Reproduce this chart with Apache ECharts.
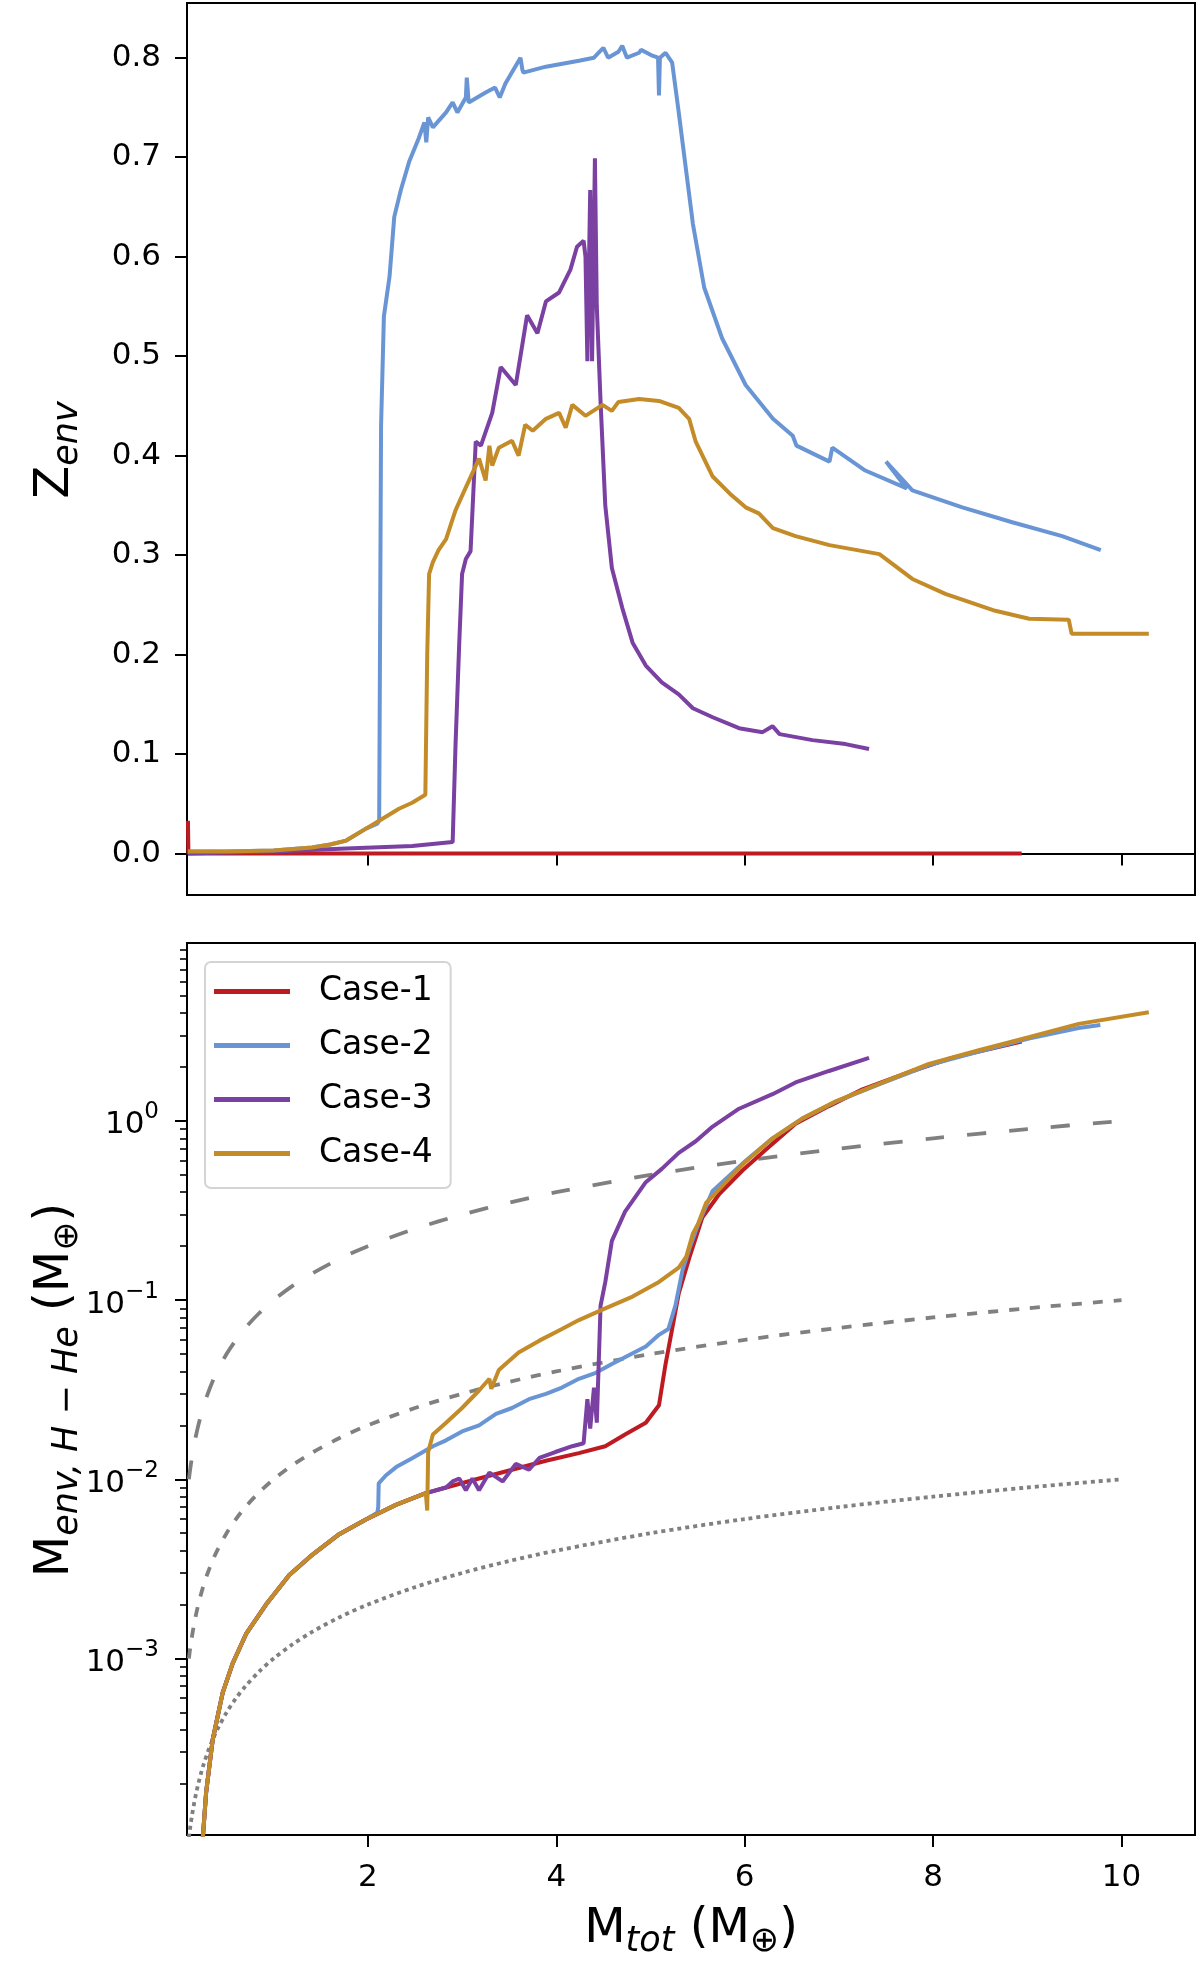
<!DOCTYPE html>
<html><head><meta charset="utf-8">
<script src="https://cdn.jsdelivr.net/npm/echarts@6/dist/echarts.min.js"></script>
<style>html,body{margin:0;padding:0;background:#fff}#c{width:1200px;height:1962px}</style>
</head><body><div id="c"></div>
<script>
// ---------- tick values ----------
const xTicks = [2, 4, 6, 8, 10];
const zTicks = [0, 0.1, 0.2, 0.3, 0.4, 0.5, 0.6, 0.7, 0.8];
const logMajorTicks = [0.001, 0.01, 0.1, 1];
const logMinorTicks = [2e-4,3e-4,4e-4,5e-4,6e-4,7e-4,8e-4,9e-4,
  2e-3,3e-3,4e-3,5e-3,6e-3,7e-3,8e-3,9e-3,
  0.02,0.03,0.04,0.05,0.06,0.07,0.08,0.09,
  0.2,0.3,0.4,0.5,0.6,0.7,0.8,0.9,
  2,3,4,5,6,7,8,9];
const caseNames = ['Case-1', 'Case-2', 'Case-3', 'Case-4'];

// ---------- top panel: Z_env ----------
const case1ZX = [0.09, 0.095, 0.10, 8.94];
const case1ZY = [0.033, 0.0, 0.0, 0.0];

const case2ZX = [0.09,0.5,1.0,1.41,1.6,1.77,1.98,2.10,2.12,2.14,2.17,2.23,2.28,2.35,2.44,2.54,
  2.60,2.62,2.64,2.69,2.83,2.90,2.95,3.04,3.05,3.07,3.25,3.35,3.40,3.46,3.62,3.64,3.65,3.89,4.24,4.40,4.45,4.50,4.55,4.66,4.70,4.75,4.88,4.90,
  5.02,5.08,5.09,5.10,5.16,5.23,5.30,5.38,5.45,5.57,
  5.76,6.01,6.30,6.51,6.55,6.90,6.93,7.28,7.72,7.50,7.78,8.31,8.84,9.37,9.78];
const case2ZY = [0.002,0.002,0.003,0.006,0.009,0.013,0.025,0.030,0.033,0.43,0.54,0.58,0.64,0.667,0.696,0.719,
  0.735,0.715,0.74,0.73,0.745,0.755,0.745,0.76,0.78,0.755,0.765,0.77,0.76,0.774,0.80,0.788,0.785,0.791,0.797,0.80,0.805,0.81,0.80,0.806,0.812,0.80,0.805,0.808,
  0.802,0.80,0.762,0.80,0.805,0.795,0.745,0.685,0.633,0.569,
  0.518,0.471,0.437,0.42,0.41,0.394,0.408,0.385,0.367,0.394,0.365,0.348,0.333,0.319,0.305];

const case3ZX = [0.09,0.5,1.0,1.77,2.47,2.90,2.93,2.97,3.0,3.04,3.09,3.145,3.2,3.32,3.41,3.57,3.69,3.8,3.89,4.03,
  4.15,4.22,4.29,4.31,4.33,4.36,4.38,4.41,4.43,4.47,4.52,4.59,4.7,4.81,4.95,5.12,5.3,5.45,5.66,5.94,
  6.19,6.295,6.37,6.72,7.07,7.32];
const case3ZY = [0.0,0.001,0.002,0.005,0.0075,0.0115,0.108,0.212,0.281,0.296,0.304,0.414,0.41,0.443,0.489,0.471,0.541,0.523,0.555,0.564,
  0.587,0.61,0.616,0.60,0.495,0.667,0.495,0.699,0.55,0.454,0.35,0.287,0.247,0.212,0.189,0.172,0.160,0.146,0.137,0.126,
  0.122,0.128,0.12,0.114,0.11,0.105];

const case4ZX = [0.09,0.5,1.0,1.41,1.6,1.77,1.98,2.12,2.33,2.47,2.61,2.63,2.65,2.69,2.75,2.83,2.93,3.04,3.18,3.25,
  3.29,3.32,3.39,3.53,3.6,3.67,3.75,3.89,4.03,4.1,4.17,4.31,4.49,4.59,4.66,4.88,5.09,5.3,5.41,5.48,
  5.66,5.84,6.01,6.15,6.3,6.54,6.9,7.43,7.78,8.13,8.66,9.02,9.44,9.47,10.29];
const case4ZY = [0.002,0.002,0.003,0.006,0.009,0.013,0.025,0.033,0.045,0.051,0.059,0.20,0.281,0.293,0.305,0.316,0.345,0.368,0.397,0.375,
  0.41,0.39,0.408,0.415,0.40,0.431,0.425,0.437,0.443,0.428,0.451,0.44,0.451,0.445,0.454,0.457,0.455,0.448,0.437,0.414,
  0.379,0.362,0.348,0.342,0.327,0.319,0.310,0.301,0.276,0.261,0.244,0.236,0.235,0.221,0.221];

// ---------- bottom panel: M_env,H-He ----------
const case1MX = [0.245,0.283,0.353,0.459,0.565,0.707,0.919,1.166,1.413,1.696,1.979,2.297,2.615,
  2.83,3.18,3.53,3.89,4.24,4.52,4.73,4.95,5.09,5.16,5.23,5.3,5.41,5.55,5.73,5.976,6.22,6.54,6.895,7.25,7.78,8.2,8.94];
const case1MY = [9.5e-5,1.79e-4,3.53e-4,6.45e-4,9.4e-4,1.37e-3,2.0e-3,2.92e-3,3.8e-3,4.94e-3,5.97e-3,7.2e-3,8.38e-3,
  9.0e-3,0.0101,0.0113,0.0127,0.014,0.0153,0.0178,0.0207,0.0259,0.044,0.069,0.109,0.171,0.289,0.391,0.529,0.688,0.966,1.21,1.50,1.90,2.25,2.77];

const case2MX = [0.245,0.283,0.353,0.459,0.565,0.707,0.919,1.166,1.413,1.696,1.979,
  2.10,2.11,2.115,2.19,2.30,2.47,2.69,2.83,3.0,3.18,3.36,3.53,3.71,3.89,4.06,4.24,4.42,4.59,4.77,4.95,
  5.09,5.19,5.265,5.34,5.42,5.51,5.66,6.01,6.295,6.61,6.966,7.425,7.955,8.485,9.016,9.545,9.775];
const case2MY = [9.5e-5,1.79e-4,3.53e-4,6.45e-4,9.4e-4,1.37e-3,2.0e-3,2.92e-3,3.8e-3,4.94e-3,5.97e-3,
  6.5e-3,7.0e-3,0.0095,0.0105,0.0117,0.0131,0.0153,0.0165,0.0185,0.020,0.0232,0.025,0.028,0.030,0.0325,0.0364,0.0393,0.044,0.0492,0.0551,
  0.064,0.069,0.0934,0.147,0.1986,0.268,0.407,0.60,0.80,1.03,1.28,1.60,2.05,2.44,2.88,3.30,3.43];

const case3MX = [0.245,0.283,0.353,0.459,0.565,0.707,0.919,1.166,1.413,1.696,1.979,2.297,2.615,
  2.83,2.9,2.97,3.04,3.11,3.18,3.29,3.43,3.57,3.71,3.82,3.99,4.17,4.29,4.33,4.36,4.40,4.43,4.47,4.52,
  4.59,4.73,4.95,5.12,5.3,5.48,5.66,5.94,6.295,6.54,6.895,7.32];
const case3MY = [9.5e-5,1.79e-4,3.53e-4,6.45e-4,9.4e-4,1.37e-3,2.0e-3,2.92e-3,3.8e-3,4.94e-3,5.97e-3,7.2e-3,8.38e-3,
  9.0e-3,9.73e-3,0.0101,8.69e-3,0.0101,8.69e-3,0.0109,9.73e-3,0.0122,0.0113,0.01315,0.0142,0.0153,0.0159,0.028,0.0192,0.0325,0.0207,0.093,0.126,
  0.214,0.312,0.455,0.54,0.663,0.77,0.93,1.17,1.41,1.64,1.90,2.25];

const case4MX = [0.245,0.283,0.353,0.459,0.565,0.707,0.919,1.166,1.413,1.696,1.979,2.297,2.615,
  2.63,2.64,2.69,2.83,3.0,3.18,3.29,3.31,3.39,3.6,3.82,4.06,4.24,4.52,4.81,5.09,5.3,5.38,5.45,5.51,
  5.59,5.8,6.01,6.295,6.61,6.966,7.425,7.955,8.485,9.016,9.545,10.29];
const case4MY = [9.5e-5,1.79e-4,3.53e-4,6.45e-4,9.4e-4,1.37e-3,2.0e-3,2.92e-3,3.8e-3,4.94e-3,5.97e-3,7.2e-3,8.38e-3,
  6.7e-3,0.0142,0.0178,0.0207,0.025,0.0313,0.0364,0.032,0.0407,0.051,0.0594,0.069,0.0774,0.0899,0.1047,0.1264,0.152,0.175,0.235,0.27,
  0.349,0.455,0.592,0.80,1.03,1.286,1.61,2.08,2.48,2.93,3.48,4.04];

// ---------- grey reference lines (10%, 1%, 0.1% of M_tot) ----------
const refX = [0.1,0.11,0.12,0.135,0.15,0.175,0.2,0.23,0.26,0.3,0.35,0.4,0.5,0.6,0.7,0.85,1.0,1.2,1.4,1.7,2.0,2.5,3.0,3.5,4.0,5.0,6.0,7.0,8.0,9.0,10.0];
const ref10pct = [0.01,0.011,0.012,0.0135,0.015,0.0175,0.02,0.023,0.026,0.03,0.035,0.04,0.05,0.06,0.07,0.085,0.1,0.12,0.14,0.17,0.2,0.25,0.3,0.35,0.4,0.5,0.6,0.7,0.8,0.9,1.0];
const ref1pct = [0.001,0.0011,0.0012,0.00135,0.0015,0.00175,0.002,0.0023,0.0026,0.003,0.0035,0.004,0.005,0.006,0.007,0.0085,0.01,0.012,0.014,0.017,0.02,0.025,0.03,0.035,0.04,0.05,0.06,0.07,0.08,0.09,0.1];
const ref01pct = [0.0001,0.00011,0.00012,0.000135,0.00015,0.000175,0.0002,0.00023,0.00026,0.0003,0.00035,0.0004,0.0005,0.0006,0.0007,0.00085,0.001,0.0012,0.0014,0.0017,0.002,0.0025,0.003,0.0035,0.004,0.005,0.006,0.007,0.008,0.009,0.01];

// ---------- styling ----------
const FONT = 'DejaVu Sans';
const colors = ['#bd1a22', '#6a95d5', '#7a40a2', '#c38c29'];
const GREY = '#808080';
const pair = (xs, ys) => xs.map((x, i) => [x, ys[i]]);

const chart = echarts.init(document.getElementById('c'), null, {renderer: 'canvas'});

const axisLineStyle = {show: true, lineStyle: {color: '#000', width: 2}};
const tickStyle = {lineStyle: {color: '#000', width: 2}, length: 12, inside: false};

function curve(name, xs, ys, color, xi, yi) {
  return {name, type: 'line', xAxisIndex: xi, yAxisIndex: yi, data: pair(xs, ys),
    symbol: 'none', showSymbol: false, lineStyle: {color, width: 4}, itemStyle: {color}, z: 3};
}
function refLine(xs, ys, dash) {
  return {type: 'line', xAxisIndex: 1, yAxisIndex: 1, data: pair(xs, ys), symbol: 'none',
    showSymbol: false, silent: true, smooth: 0.3,
    lineStyle: {color: GREY, width: 3.8, type: dash}, itemStyle: {color: GREY}, z: 2};
}
const supDigits = e => (e < 0 ? '\u2212' + (-e) : '' + e);

const option = {
  animation: false,
  backgroundColor: '#fff',
  grid: [
    {left: 187, top: 3, width: 1008, height: 892, show: true, borderColor: '#000', borderWidth: 2, backgroundColor: 'transparent'},
    {left: 187, top: 943, width: 1008, height: 892, show: true, borderColor: '#000', borderWidth: 2, backgroundColor: 'transparent'}
  ],
  legend: {
    data: caseNames, orient: 'vertical', left: 205, top: 962,
    icon: 'rect', itemWidth: 76, itemHeight: 5, itemGap: 17,
    padding: [11, 18, 16, 9],
    backgroundColor: '#fff', borderColor: '#d4d4d4', borderWidth: 2, borderRadius: 6,
    textStyle: {fontFamily: FONT, fontSize: 33, color: '#000', lineHeight: 37, padding: [0, 0, 0, 24]}
  },
  xAxis: [
    {type: 'value', gridIndex: 0, min: 0.08, max: 10.78, axisLine: axisLineStyle,
      axisTick: Object.assign({customValues: xTicks}, tickStyle), axisLabel: {show: false}, splitLine: {show: false}},
    {type: 'value', gridIndex: 1, min: 0.08, max: 10.78, axisLine: axisLineStyle,
      axisTick: Object.assign({customValues: xTicks}, tickStyle),
      axisLabel: {customValues: xTicks, fontFamily: FONT, fontSize: 31, color: '#000', margin: 27,
        formatter: v => String(v)},
      splitLine: {show: false}}
  ],
  yAxis: [
    {type: 'value', gridIndex: 0, min: -0.0417, max: 0.855, axisLine: axisLineStyle,
      axisTick: Object.assign({customValues: zTicks}, tickStyle),
      axisLabel: {customValues: zTicks, fontFamily: FONT, fontSize: 31, color: '#000', margin: 26,
        formatter: v => v.toFixed(1)},
      splitLine: {show: false}},
    {type: 'log', logBase: 10, gridIndex: 1, position: 'left', min: 1.035e-4, max: 9.84, axisLine: axisLineStyle,
      axisTick: Object.assign({customValues: logMajorTicks}, tickStyle),
      axisLabel: {customValues: logMajorTicks, margin: 28,
        formatter: v => '{b|10}{s|' + supDigits(Math.round(Math.log10(v))) + '}',
        rich: {
          b: {fontFamily: FONT, fontSize: 31, color: '#000', lineHeight: 40, verticalAlign: 'bottom'},
          s: {fontFamily: FONT, fontSize: 23, color: '#000', lineHeight: 20, verticalAlign: 'top'}
        }},
      splitLine: {show: false}},
    {type: 'log', logBase: 10, gridIndex: 1, position: 'left', offset: 0, min: 1.035e-4, max: 9.84,
      axisLine: {show: false},
      axisTick: {customValues: logMinorTicks, length: 7, lineStyle: {color: '#000', width: 1.6}},
      axisLabel: {show: false}, splitLine: {show: false}}
  ],
  series: [
    curve('Case-1', case1ZX, case1ZY, colors[0], 0, 0),
    curve('Case-2', case2ZX, case2ZY, colors[1], 0, 0),
    curve('Case-3', case3ZX, case3ZY, colors[2], 0, 0),
    curve('Case-4', case4ZX, case4ZY, colors[3], 0, 0),
    refLine(refX, ref10pct, [19, 23]),
    refLine(refX, ref1pct, [10, 11]),
    refLine(refX, ref01pct, [4, 4]),
    curve('Case-1', case1MX, case1MY, colors[0], 1, 1),
    curve('Case-2', case2MX, case2MY, colors[1], 1, 1),
    curve('Case-3', case3MX, case3MY, colors[2], 1, 1),
    curve('Case-4', case4MX, case4MY, colors[3], 1, 1)
  ],
  graphic: [
    {type: 'text', x: 56, y: 450, rotation: Math.PI / 2,
      style: {text: '{m|Z}{s|env}', align: 'center', verticalAlign: 'middle',
        rich: {m: {fontFamily: FONT, fontSize: 48, lineHeight: 58, fill: '#000'},
               s: {fontFamily: FONT, fontSize: 35, fontStyle: 'italic', lineHeight: 35, verticalAlign: 'bottom', fill: '#000'}}}},
    {type: 'text', x: 56, y: 1390, rotation: Math.PI / 2,
      style: {text: '{m|M}{s|env, H \u2212 He}{m| (M}{s|\u2295}{m|)}', align: 'center', verticalAlign: 'middle',
        rich: {m: {fontFamily: FONT, fontSize: 48, lineHeight: 58, fill: '#000'},
               s: {fontFamily: FONT, fontSize: 35, fontStyle: 'italic', lineHeight: 35, verticalAlign: 'bottom', fill: '#000'}}}},
    {type: 'text', x: 691, y: 1930,
      style: {text: '{m|M}{s|tot}{m| (M}{u|\u2295}{m|)}', align: 'center', verticalAlign: 'middle',
        rich: {m: {fontFamily: FONT, fontSize: 48, lineHeight: 58, fill: '#000'},
               s: {fontFamily: FONT, fontSize: 35, fontStyle: 'italic', lineHeight: 35, verticalAlign: 'bottom', fill: '#000'},
               u: {fontFamily: FONT, fontSize: 35, lineHeight: 35, verticalAlign: 'bottom', fill: '#000'}}}}
  ]
};
chart.setOption(option);
</script></body></html>
